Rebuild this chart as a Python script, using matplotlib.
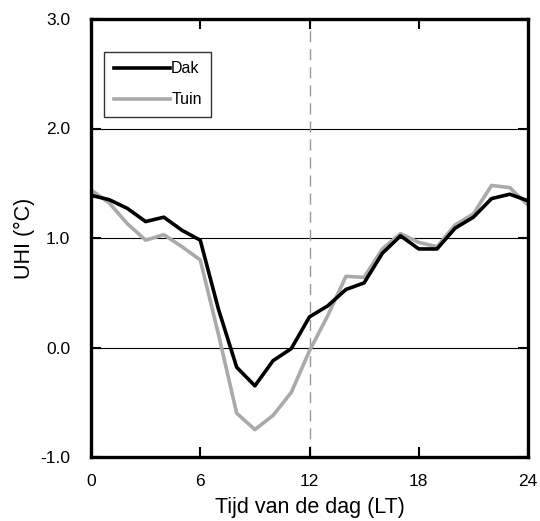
import matplotlib
matplotlib.use("Agg")
import matplotlib.pyplot as plt

hours = list(range(25))
dak = [1.39, 1.35, 1.27, 1.15, 1.19, 1.07, 0.98, 0.35, -0.18, -0.35, -0.12, -0.01,
       0.28, 0.38, 0.53, 0.59, 0.86, 1.02, 0.90, 0.90, 1.09, 1.19, 1.36, 1.40, 1.34]
tuin = [1.44, 1.32, 1.13, 0.98, 1.03, 0.92, 0.80, 0.12, -0.60, -0.75, -0.62, -0.41,
        -0.03, 0.29, 0.65, 0.64, 0.90, 1.04, 0.96, 0.92, 1.12, 1.22, 1.48, 1.46, 1.30]
xticks = [0, 6, 12, 18, 24]
yticks = [-1.0, 0.0, 1.0, 2.0, 3.0]

plt.rcParams['font.family'] = ['Liberation Sans', 'DejaVu Sans']

fig = plt.figure(figsize=(5.4, 5.21), dpi=100)
ax = fig.add_axes([91/540, 1-457/521, (528-91)/540, (457-19)/521])

for y in [0.0, 1.0, 2.0]:
    ax.axhline(y, color='black', lw=0.8, zorder=1)
ax.axvline(12, color='#999999', lw=1.0, dashes=(8, 5), zorder=1)

ax.plot(hours, tuin, color='#aaaaaa', lw=2.6, label='Tuin', zorder=2)
ax.plot(hours, dak, color='black', lw=2.6, label='Dak', zorder=3)

ax.set_xlim(0, 24)
ax.set_ylim(-1.0, 3.0)
ax.set_xticks(xticks)
ax.set_yticks(yticks)
ax.set_yticklabels([f"{v:.1f}" for v in yticks])
ax.tick_params(direction='in', length=7, width=1.5, top=True, right=True,
               labelsize=12.5)
ax.tick_params(axis='x', pad=12)
ax.tick_params(axis='y', pad=15)
for s in ax.spines.values():
    s.set_linewidth(2.4)

ax.set_xlabel('Tijd van de dag (LT)', fontsize=15.5, labelpad=6)
ax.set_ylabel('UHI (°C)', fontsize=15.5, labelpad=4)

h, l = ax.get_legend_handles_labels()
leg = ax.legend([h[1], h[0]], [l[1], l[0]], loc='upper left',
                bbox_to_anchor=(0.03, 0.925), fontsize=11.5, frameon=True,
                fancybox=False, edgecolor='black', handlelength=3.5,
                handletextpad=0.1, borderpad=0.6, labelspacing=1.0,
                borderaxespad=0, handleheight=0.7)
leg.get_frame().set_linewidth(1.0)

fig.savefig('out.png', dpi=100)
